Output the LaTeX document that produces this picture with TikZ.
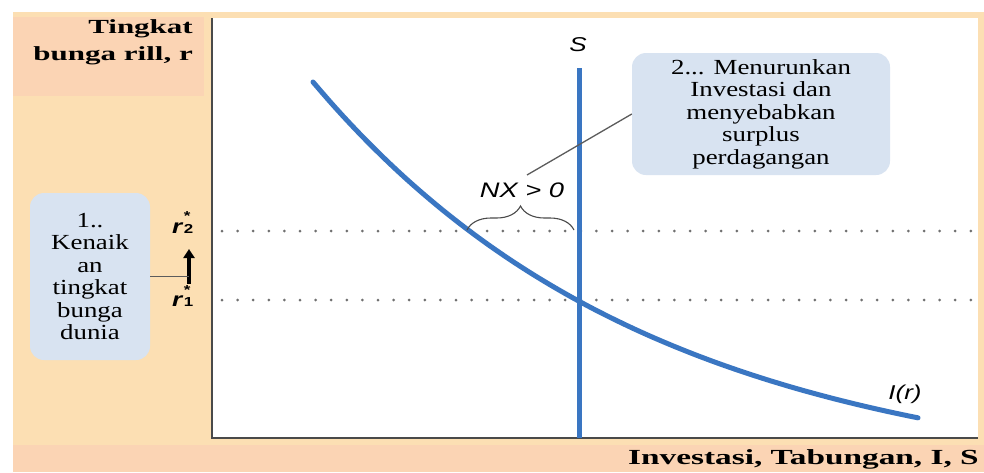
\documentclass[tikz,border=0pt]{standalone}
\usepackage{fontspec}
\setmainfont{Liberation Serif}[FakeStretch=1.25]
\newfontfamily\hdfont{Liberation Serif}[FakeStretch=1.55]
\newfontfamily\lbfont{Liberation Sans}[FakeStretch=1.3]
\usetikzlibrary{arrows.meta,decorations.pathreplacing}
\definecolor{orangebg}{HTML}{FCDFB3}
\definecolor{salmon}{HTML}{FBD4B4}
\definecolor{boxblue}{HTML}{D8E3F1}
\definecolor{curveblue}{HTML}{3A76C2}
\definecolor{axisgray}{HTML}{4A4A4A}
\definecolor{dotgray}{HTML}{707070}
\newcommand{\rstarlab}[1]{\lbfont\bfseries\itshape r\hspace{1.5pt}\upshape\fontsize{13}{10}\selectfont\shortstack[l]{\raisebox{-5pt}{*}\\#1}}
\tikzset{
  notebox/.style={fill=boxblue, rounded corners=14pt, align=center, inner sep=0pt,
    font=\fontsize{21.5}{22.5}\selectfont},
  curveline/.style={draw=curveblue, line width=5pt},
  dotline/.style={draw=dotgray, line width=3pt, line cap=round, dash pattern=on 0pt off 15.6pt},
  axisline/.style={draw=axisgray, line width=2pt},
  pointer/.style={draw=axisgray!90, line width=1.3pt},
  italab/.style={font=\lbfont\itshape\fontsize{20}{20}\selectfont, inner sep=0pt},
  headlab/.style={font=\hdfont\bfseries\fontsize{20}{27}\selectfont, inner sep=0pt}
}
\begin{document}
\begin{tikzpicture}[x=1pt,y=-1pt]
\useasboundingbox (0,0) rectangle (984,472);
% backgrounds
\fill[white] (0,0) rectangle (984,472);
\fill[orangebg] (13,12) rectangle (984,447);
\fill[salmon] (13,17) rectangle (204,96);
\fill[salmon] (13,445) rectangle (984,472);
\fill[white] (212,18) rectangle (978,438);
% axes
\coordinate (o) at (212,438);
\coordinate (ytop) at (212,18);
\coordinate (xend) at (978,438);
\draw[axisline] (ytop) -- (o) -- (xend);
% header labels
\node[headlab, align=right, anchor=north east] (ylab) at (193,19) {Tingkat\\bunga rill, r};
\node[font=\hdfont\bfseries\fontsize{21.5}{22}\selectfont, inner sep=0pt, anchor=east] (xlab) at (979,459) {Investasi, Tabungan, I, S};
% dotted lines
\coordinate (d2a) at (222,231); \coordinate (d2b) at (980,231);
\coordinate (d1a) at (222,300); \coordinate (d1b) at (980,300);
\draw[dotline] (d2a) -- (d2b);
\draw[dotline] (d1a) -- (d1b);
% S line
\coordinate (Stop) at (579,68);
\coordinate (Sbot) at (579,438);
\draw[curveline] (Stop) -- (Sbot);
\node[italab] (Slab) at (578,45) {S};
% I(r) curve
\draw[curveline, line cap=round] plot[domain=313:918, samples=80] (\x, {82+404*(1-exp(-(\x-313)/340))});
\node[italab] (Ilab) at (905,394) {I(r)};
% brace and NX label
\coordinate (bl) at (467,230);
\coordinate (br) at (574,230);
\draw[draw=axisgray, line width=1.1pt, decorate, decoration={brace, amplitude=24pt}] (bl) -- (br);
\node[italab, font=\lbfont\itshape\fontsize{21}{21}\selectfont] (NXlab) at (522,190) {NX > 0};
% box 2
\node[notebox, minimum width=258pt, minimum height=122pt] (n2) at (761,114)
  {2... Menurunkan\\Investasi dan\\menyebabkan\\surplus\\perdagangan};
\coordinate (p1) at (527,175);
\draw[pointer] (p1) -- (n2.west);
% box 1
\node[notebox, minimum width=120pt, minimum height=167pt] (n1) at (90,276.5)
  {1..\\Kenaik\\an\\tingkat\\bunga\\dunia};
% r labels and arrow
\node[inner sep=0pt, anchor=base west, font=\fontsize{20}{20}\selectfont] (r2) at (172,233) {\rstarlab{2}};
\node[inner sep=0pt, anchor=base west, font=\fontsize{20}{20}\selectfont] (r1) at (172,306) {\rstarlab{1}};
\coordinate (abot) at (189,284);
\coordinate (atop) at (189,249);
\draw[line width=4pt, -{Triangle[width=11pt,length=9pt]}] (abot) -- (atop);
\draw[pointer] (n1.east) -- (n1.east -| abot);
\end{tikzpicture}
\end{document}
